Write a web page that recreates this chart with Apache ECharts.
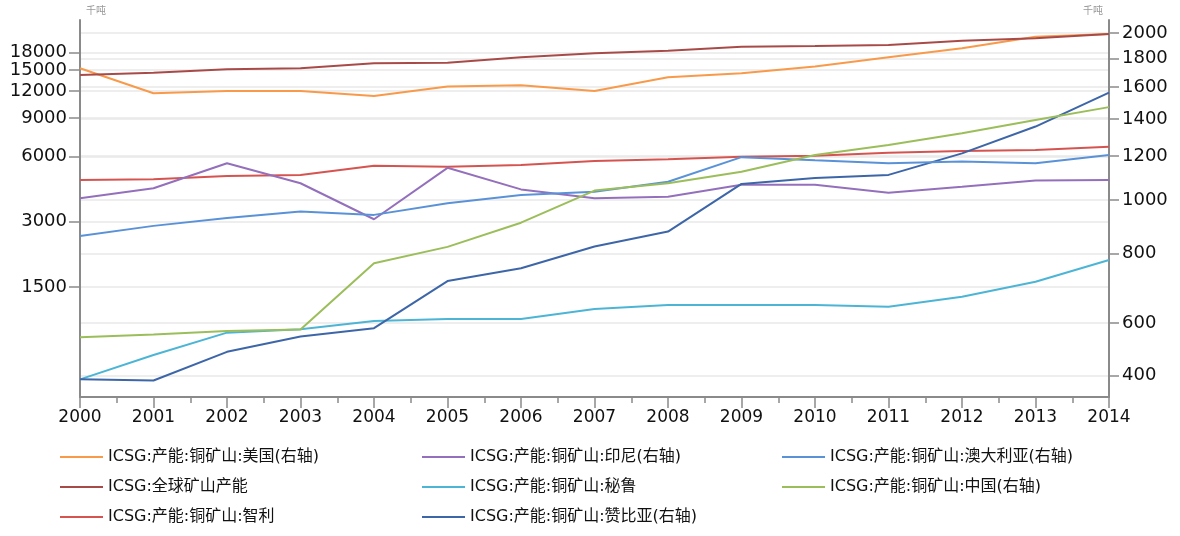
<!DOCTYPE html>
<html><head><meta charset="utf-8">
<script src="https://cdn.jsdelivr.net/npm/echarts@6/dist/echarts.min.js"></script>
<style>html,body{margin:0;padding:0;background:#fff}#c{width:1180px;height:536px}</style>
</head><body><div id="c"></div>
<script>
const years = [2000,2001,2002,2003,2004,2005,2006,2007,2008,2009,2010,2011,2012,2013,2014];
const leftTicks = [1500,3000,6000,9000,12000,15000];
const leftTopTicks = [18000];
const rightTicks = [400,600,800,1000,1200,1400,1600,1800,2000];
// right-axis series
const usa       = [1729,1558,1573,1573,1541,1602,1611,1573,1666,1693,1741,1810,1879,1970,1994];
const indonesia = [1007,1050,1165,1072,923,1143,1045,1007,1014,1065,1065,1031,1057,1084,1087];
const australia = [861,898,928,953,940,987,1021,1035,1079,1195,1179,1165,1173,1165,1206];
const china     = [565,572,580,584,769,823,910,1040,1072,1125,1206,1257,1320,1395,1471];
const zambia    = [394,392,532,567,587,714,753,824,877,1069,1096,1110,1214,1357,1562];
// left-axis series
const world     = [14210,14560,15100,15260,16090,16190,17150,17890,18390,19190,19330,19540,20450,20970,21950];
const peru      = [563,729,924,958,1046,1068,1068,1188,1240,1240,1240,1217,1353,1587,1997];
const chile     = [4666,4702,4868,4920,5430,5373,5470,5707,5811,5974,6030,6233,6346,6414,6642];

const names = {
  usa:'ICSG:产能:铜矿山:美国(右轴)',
  indonesia:'ICSG:产能:铜矿山:印尼(右轴)',
  australia:'ICSG:产能:铜矿山:澳大利亚(右轴)',
  world:'ICSG:全球矿山产能',
  peru:'ICSG:产能:铜矿山:秘鲁',
  china:'ICSG:产能:铜矿山:中国(右轴)',
  chile:'ICSG:产能:铜矿山:智利',
  zambia:'ICSG:产能:铜矿山:赞比亚(右轴)'
};
const colors = {
  usa:'#F89A4A', world:'#A84B48', chile:'#D55450', indonesia:'#9470BC',
  peru:'#4CB5D5', china:'#9BBE5A', zambia:'#3D66A8', australia:'#5A92D8'
};
function mk(key, arr, axis){
  return {name:names[key], type:'line', yAxisIndex:axis, symbol:'none',
    lineStyle:{width:2, color:colors[key]}, itemStyle:{color:colors[key]},
    data: years.map((y,i)=>[y, arr[i]])};
}
const font = 'DejaVu Sans, Noto Sans CJK SC, sans-serif';
const axisCol = '#8a8a8a';
const legendBase = {orient:'vertical', top:449, padding:0, itemWidth:43, itemHeight:14, itemGap:14,
  icon:'path://M0,6 L43,6 L43,8 L0,8 Z',
  textStyle:{fontSize:16, color:'#111', fontFamily:font, lineHeight:16}, itemStyle:{borderWidth:0}};
function leftAxis(ticks, withName){
  return {type:'log', logBase:10, min:467, max:25470, position:'left',
    name: withName ? '千吨' : '', nameLocation:'end', nameGap:4,
    nameTextStyle:{fontSize:10, color:'#999', align:'left', padding:[0,0,0,6], fontFamily:font},
    axisLine:{show:withName, lineStyle:{color:axisCol, width:2}},
    axisTick:{show:true, length:11, customValues:ticks, lineStyle:{color:axisCol, width:1.5}},
    axisLabel:{margin:13, fontSize:18, hideOverlap:false, color:'#111', fontFamily:font, customValues:ticks, formatter:v=>String(Math.round(v))},
    splitLine:{show:true, lineStyle:{color:'#e8e8e8', width:1.5}},
    minorTick:{show:false}, minorSplitLine:{show:false}
  };
}
const chart = echarts.init(document.getElementById('c'));
chart.setOption({
  animation:false,
  backgroundColor:'#fff',
  grid:{left:80, right:71, top:20, bottom:139},
  legend:[
    Object.assign({}, legendBase, {left:60, data:[names.usa, names.world, names.chile]}),
    Object.assign({}, legendBase, {left:422, data:[names.indonesia, names.peru, names.zambia]}),
    Object.assign({}, legendBase, {left:782, data:[names.australia, names.china]})
  ],
  xAxis:{type:'value', min:2000, max:2014, interval:1,
    axisLine:{lineStyle:{color:axisCol, width:2}},
    axisTick:{length:11, lineStyle:{color:axisCol, width:1.5}},
    minorTick:{show:true, splitNumber:2, length:6, lineStyle:{color:axisCol, width:1.5}},
    splitLine:{show:false},
    axisLabel:{margin:12, fontSize:17, color:'#111', fontFamily:font, formatter:v=>String(v)}
  },
  yAxis:[
    leftAxis(leftTicks, true),
    {type:'log', logBase:10, min:366, max:2113, position:'right',
      breaks:[{start:420, end:506, gap:0}],
      breakArea:{show:false},
      name:'千吨', nameLocation:'end', nameGap:4,
      nameTextStyle:{fontSize:10, color:'#999', align:'right', padding:[0,6,0,0], fontFamily:font},
      axisLine:{show:true, lineStyle:{color:axisCol, width:2}},
      axisTick:{show:true, length:10, customValues:rightTicks, lineStyle:{color:axisCol, width:1.5}},
      axisLabel:{margin:13, fontSize:18, hideOverlap:false, color:'#111', fontFamily:font, customValues:rightTicks, formatter:v=>String(Math.round(v))},
      splitLine:{show:true, lineStyle:{color:'#e8e8e8', width:1.5}},
      minorTick:{show:false}, minorSplitLine:{show:false}
    },
    leftAxis(leftTopTicks, false)
  ],
  series:[
    mk('usa', usa, 1),
    mk('world', world, 0),
    mk('chile', chile, 0),
    mk('indonesia', indonesia, 1),
    mk('peru', peru, 0),
    mk('zambia', zambia, 1),
    mk('australia', australia, 1),
    mk('china', china, 1)
  ]
});
</script></body></html>
